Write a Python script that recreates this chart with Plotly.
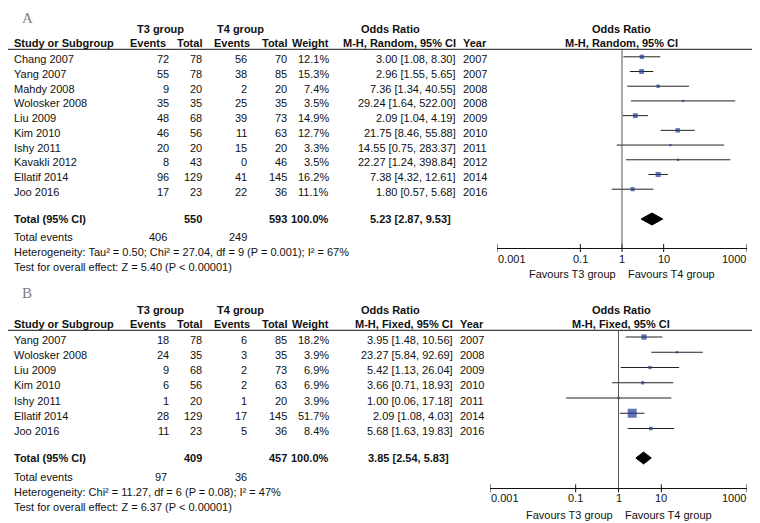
import math
import plotly.graph_objects as go

W, H = 760, 523
OX, OY = 8, 8  # default page body margin

# ---------------- data: panel A ----------------
A_study = ["Chang 2007", "Yang 2007", "Mahdy 2008", "Wolosker 2008", "Liu 2009",
           "Kim 2010", "Ishy 2011", "Kavakli 2012", "Ellatif 2014", "Joo 2016"]
A_t3_events = [72, 55, 9, 35, 48, 46, 20, 8, 96, 17]
A_t3_total = [78, 78, 20, 35, 68, 56, 20, 43, 129, 23]
A_t4_events = [56, 38, 2, 25, 39, 11, 15, 0, 41, 22]
A_t4_total = [70, 85, 20, 35, 73, 63, 20, 46, 145, 36]
A_weight = [12.1, 15.3, 7.4, 3.5, 14.9, 12.7, 3.3, 3.5, 16.2, 11.1]
A_or = [3.00, 2.96, 7.36, 29.24, 2.09, 21.75, 14.55, 22.27, 7.38, 1.80]
A_lo = [1.08, 1.55, 1.34, 1.64, 1.04, 8.46, 0.75, 1.24, 4.32, 0.57]
A_hi = [8.30, 5.65, 40.55, 522.00, 4.19, 55.88, 283.37, 398.84, 12.61, 5.68]
A_year = [2007, 2007, 2008, 2008, 2009, 2010, 2011, 2012, 2014, 2016]
A_total = {"t3_total": 550, "t4_total": 593, "t3_events": 406, "t4_events": 249,
           "or": 5.23, "lo": 2.87, "hi": 9.53}
A_method = "M-H, Random, 95% CI"
A_het = "Heterogeneity: Tau² = 0.50; Chi² = 27.04, df = 9 (P = 0.001); I² = 67%"
A_test = "Test for overall effect: Z = 5.40 (P < 0.00001)"

# ---------------- data: panel B ----------------
B_study = ["Yang 2007", "Wolosker 2008", "Liu 2009", "Kim 2010", "Ishy 2011",
           "Ellatif 2014", "Joo 2016"]
B_t3_events = [18, 24, 9, 6, 1, 28, 11]
B_t3_total = [78, 35, 68, 56, 20, 129, 23]
B_t4_events = [6, 3, 2, 2, 1, 17, 5]
B_t4_total = [85, 35, 73, 63, 20, 145, 36]
B_weight = [18.2, 3.9, 6.9, 6.9, 3.9, 51.7, 8.4]
B_or = [3.95, 23.27, 5.42, 3.66, 1.00, 2.09, 5.68]
B_lo = [1.48, 5.84, 1.13, 0.71, 0.06, 1.08, 1.63]
B_hi = [10.56, 92.69, 26.04, 18.93, 17.18, 4.03, 19.83]
B_year = [2007, 2008, 2009, 2010, 2011, 2014, 2016]
B_total = {"t3_total": 409, "t4_total": 457, "t3_events": 97, "t4_events": 36,
           "or": 3.85, "lo": 2.54, "hi": 5.83}
B_method = "M-H, Fixed, 95% CI"
B_het = "Heterogeneity: Chi² = 11.27, df = 6 (P = 0.08); I² = 47%"
B_test = "Test for overall effect: Z = 6.37 (P < 0.00001)"

tick_vals = [0.001, 0.1, 1, 10, 1000]
tick_text = ["0.001", "0.1", "1", "10", "1000"]

FONT = "Liberation Sans, Arial, sans-serif"
TXT = "#111111"
BLUE = "#1f3a93"

fig = go.Figure()
annotations = []
shapes = []


def px(x):
    return (x - OX) / W


def txt(x, y, s, anchor="left", bold=False, size=11, color=TXT, family=FONT, yanchor="middle"):
    if bold:
        s = "<b>" + s + "</b>"
    annotations.append(dict(x=px(x), y=y, xref="paper", yref="y", text=s,
                            showarrow=False, xanchor=anchor, yanchor=yanchor,
                            borderpad=0,
                            font=dict(family=family, size=size, color=color)))


def panel(label, label_y, label_anchor, top, study, t3e, t3t, t4e, t4t, wt, orv, lo, hi, yr,
          tot, method, het, test, xa, ax_y, ax_left, row0, step, y_total, y_ev,
          y_het, y_test, or_right, tot_or_right, fav_y, tick_y):
    txt(21, label_y, label, size=15, color="#808080", family="Liberation Serif, serif",
        yanchor=label_anchor)
    h1, h2 = top, top + 14.3
    txt(160, h1, "T3 group", "center", True)
    txt(240, h1, "T4 group", "center", True)
    txt(391, h1, "Odds Ratio", "center", True)
    txt(621, h1, "Odds Ratio", "center", True)
    txt(12.5, h2, "Study or Subgroup", "left", True)
    txt(167, h2, "Events", "right", True)
    txt(203, h2, "Total", "right", True)
    txt(251, h2, "Events", "right", True)
    txt(288, h2, "Total", "right", True)
    txt(329.5, h2, "Weight", "right", True)
    txt(or_right, h2, method, "right", True)
    txt(or_right + 5, h2, "Year", "left", True)
    txt(621, h2, method, "center", True)
    line_y = h2 + 6
    shapes.append(dict(type="line", xref="paper", yref="y", x0=0, x1=1,
                       y0=line_y, y1=line_y, line=dict(color="#111", width=1)))
    ys = [row0 + i * step for i in range(len(study))]
    for i, y in enumerate(ys):
        txt(12.5, y, study[i])
        txt(170, y, str(t3e[i]), "right")
        txt(203, y, str(t3t[i]), "right")
        txt(248, y, str(t4e[i]), "right")
        txt(288, y, str(t4t[i]), "right")
        txt(330, y, f"{wt[i]:.1f}%", "right")
        txt(or_right, y, f"{orv[i]:.2f} [{lo[i]:.2f}, {hi[i]:.2f}]", "right")
        txt(or_right + 5, y, str(yr[i]), "left")
    txt(12.5, y_total, "Total (95% CI)", "left", True)
    txt(203, y_total, str(tot["t3_total"]), "right", True)
    txt(288, y_total, str(tot["t4_total"]), "right", True)
    txt(330, y_total, "100.0%", "right", True)
    txt(tot_or_right, y_total, f"{tot['or']:.2f} [{tot['lo']:.2f}, {tot['hi']:.2f}]", "right", True)
    txt(12.5, y_ev, "Total events")
    txt(168, y_ev, str(tot["t3_events"]), "right")
    txt(248, y_ev, str(tot["t4_events"]), "right")
    txt(12.5, y_het, het)
    txt(12.5, y_test, test)
    mid = ax_left + (747 - ax_left) / 2
    txt(mid - 5, fav_y, "Favours T3 group", "right")
    txt(mid + 5, fav_y, "Favours T4 group", "left")

    # tick labels (data-referenced, log axis -> log10 units); end labels sit inward
    for k, (v, t) in enumerate(zip(tick_vals, tick_text)):
        anc = "left" if k == 0 else ("right" if k == len(tick_vals) - 1 else "center")
        annotations.append(dict(x=math.log10(v), y=tick_y, xref=xa, yref="y", text=t,
                                showarrow=False, xanchor=anc, yanchor="middle",
                                borderpad=0, font=dict(family=FONT, size=11, color=TXT)))
        shapes.append(dict(type="line", xref=xa, yref="y", x0=v, x1=v,
                           y0=ax_y - 4, y1=ax_y + 4, line=dict(color="#111", width=1)))

    # reference line at OR = 1
    shapes.append(dict(type="line", xref=xa, yref="y", x0=1, x1=1, y0=line_y, y1=ax_y,
                       line=dict(color="#555", width=1)))
    # CI lines
    mk_y = [y - 2.5 for y in ys]
    lx, ly = [], []
    for i, y in enumerate(mk_y):
        lx += [lo[i], hi[i], None]
        ly += [y, y, None]
    fig.add_trace(go.Scatter(x=lx, y=ly, mode="lines", xaxis=xa, yaxis="y",
                             line=dict(color="#222", width=1), hoverinfo="skip",
                             showlegend=False))
    # weight squares
    sizes = [max(2.2, 1.25 * math.sqrt(w)) for w in wt]
    fig.add_trace(go.Scatter(x=orv, y=mk_y, mode="markers", xaxis=xa, yaxis="y",
                             marker=dict(symbol="square", size=sizes, color=BLUE,
                                         line=dict(width=0)),
                             showlegend=False, hoverinfo="skip"))
    # diamond
    dy = y_total + 0.5
    hh = 6
    fig.add_trace(go.Scatter(x=[tot["lo"], tot["or"], tot["hi"], tot["or"], tot["lo"]],
                             y=[dy, dy - hh, dy, dy + hh, dy], mode="lines",
                             fill="toself", fillcolor="#000", xaxis=xa, yaxis="y",
                             line=dict(color="#000", width=1), showlegend=False,
                             hoverinfo="skip"))


panel("A", OY + 0.5, "top", 29, A_study, A_t3_events, A_t3_total, A_t4_events, A_t4_total,
      A_weight, A_or, A_lo, A_hi, A_year, A_total, A_method, A_het, A_test,
      "x", 248, 497, 59.3, 14.71, 218.5, 237, 252, 267, 457, 452, 274, 259)
panel("B", 293, "middle", 310, B_study, B_t3_events, B_t3_total, B_t4_events, B_t4_total,
      B_weight, B_or, B_lo, B_hi, B_year, B_total, B_method, B_het, B_test,
      "x2", 488.3, 490, 339.5, 15.25, 457.5, 476.5, 491.5, 506.5, 454, 450, 515, 498)


def xax(left, ax_y):
    return dict(type="log", range=[-3, 3], domain=[px(left), px(747)], anchor="free",
                position=1 - (ax_y - OY) / H, showgrid=False, zeroline=False,
                showline=True, linecolor="#111", linewidth=1,
                ticks="", showticklabels=False, fixedrange=True)


fig.update_layout(
    width=W, height=H, margin=dict(l=0, r=0, t=0, b=0, pad=0),
    paper_bgcolor="white", plot_bgcolor="rgba(0,0,0,0)",
    xaxis=xax(497, 248),
    xaxis2=xax(490, 488.3),
    yaxis=dict(range=[H + OY, OY], domain=[0, 1], visible=False, fixedrange=True),
    annotations=annotations, shapes=shapes, showlegend=False,
)

fig.write_html("out.html")
